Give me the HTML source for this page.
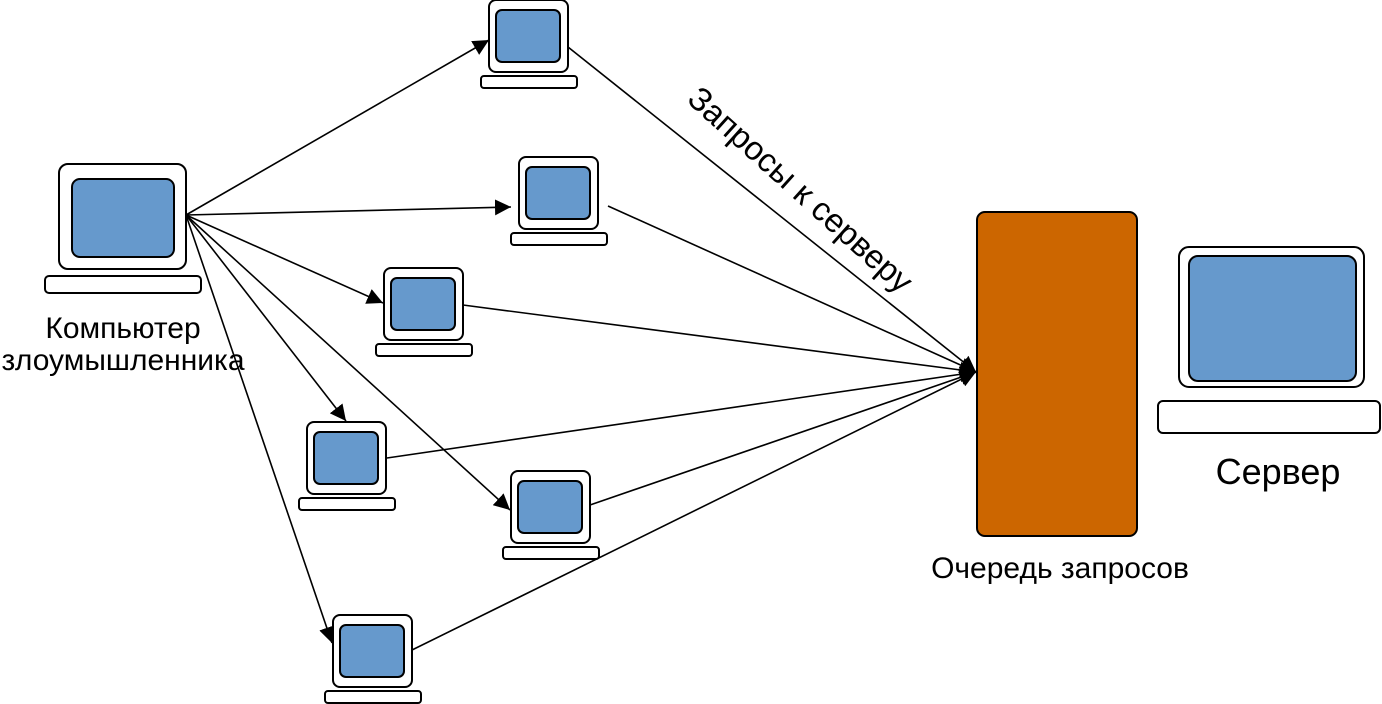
<!DOCTYPE html>
<html><head><meta charset="utf-8"><style>
body{margin:0;background:#fff;width:1382px;height:704px;overflow:hidden}
svg{display:block}
text{font-family:"Liberation Sans",sans-serif;fill:#000}
</style></head><body>
<svg width="1382" height="704" viewBox="0 0 1382 704" xmlns="http://www.w3.org/2000/svg">
<defs>
<marker id="a" viewBox="0 0 10 10" refX="10" refY="5" markerWidth="16" markerHeight="16" markerUnits="userSpaceOnUse" orient="auto"><path d="M0,0L10,5L0,10z" fill="#000"/></marker>
<g id="pc">
<rect x="0" y="0" width="79" height="72" rx="7" fill="#fff" stroke="#000" stroke-width="2"/>
<rect x="7" y="10" width="64" height="52" rx="6" fill="#6699cc" stroke="#000" stroke-width="2"/>
<rect x="-8" y="76" width="96" height="12" rx="3" fill="#fff" stroke="#000" stroke-width="2"/>
</g>
</defs>
<g stroke="#000" stroke-width="1.6" marker-end="url(#a)">
<line x1="186" y1="215" x2="489" y2="40"/>
<line x1="186" y1="215" x2="511" y2="207"/>
<line x1="186" y1="215" x2="383" y2="303"/>
<line x1="186" y1="215" x2="346" y2="421"/>
<line x1="186" y1="215" x2="510" y2="510"/>
<line x1="186" y1="215" x2="332" y2="643"/>
<line x1="568" y1="47" x2="976" y2="372"/>
<line x1="608" y1="206" x2="976" y2="372"/>
<line x1="463" y1="305" x2="976" y2="372"/>
<line x1="387" y1="458" x2="976" y2="372"/>
<line x1="590" y1="505" x2="976" y2="372"/>
<line x1="412" y1="650" x2="976" y2="372"/>
</g>
<use href="#pc" x="489" y="0"/>
<use href="#pc" x="519" y="157"/>
<use href="#pc" x="384" y="268"/>
<use href="#pc" x="307" y="422"/>
<use href="#pc" x="511" y="471"/>
<use href="#pc" x="333" y="615"/>
<rect x="59" y="164" width="127" height="105" rx="9" fill="#fff" stroke="#000" stroke-width="2"/>
<rect x="72" y="179" width="102" height="78" rx="8" fill="#6699cc" stroke="#000" stroke-width="2"/>
<rect x="45" y="276" width="156" height="17" rx="4" fill="#fff" stroke="#000" stroke-width="2"/>
<rect x="1179" y="247" width="185" height="140" rx="10" fill="#fff" stroke="#000" stroke-width="2"/>
<rect x="1189" y="256" width="167" height="125" rx="9" fill="#6699cc" stroke="#000" stroke-width="2"/>
<rect x="1158" y="401" width="222" height="32" rx="5" fill="#fff" stroke="#000" stroke-width="2"/>
<rect x="977" y="212" width="160" height="324" rx="8" fill="#cc6600" stroke="#000" stroke-width="2"/>
<text x="123" y="338" font-size="30" text-anchor="middle">Компьютер</text>
<text x="123" y="370" font-size="30" text-anchor="middle">злоумышленника</text>
<text x="1278" y="484" font-size="36" text-anchor="middle">Сервер</text>
<text x="1060" y="578" font-size="30" text-anchor="middle">Очередь запросов</text>
<text x="0" y="0" font-size="33" text-anchor="middle" transform="translate(793,198) rotate(42)">Запросы к серверу</text>
</svg>
</body></html>
